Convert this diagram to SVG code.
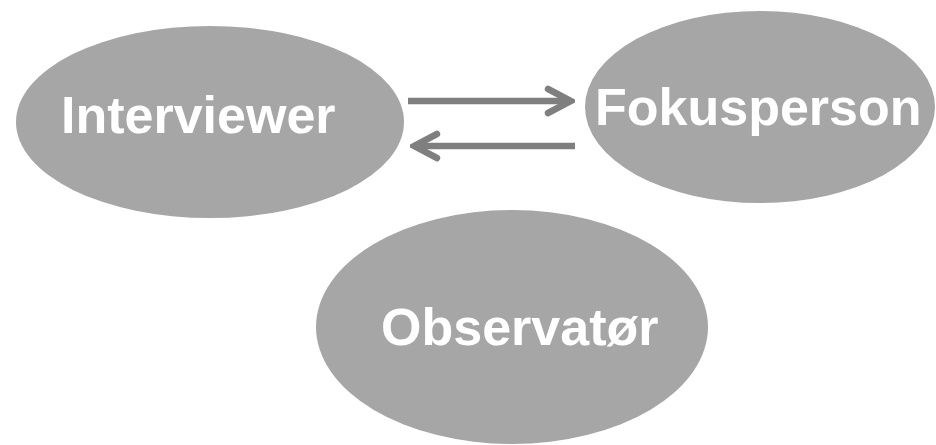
<svg xmlns="http://www.w3.org/2000/svg" width="936" height="445" viewBox="0 0 936 445">
<style>
.node ellipse{fill:#a6a6a6}
.node text{fill:#ffffff;font-family:"Liberation Sans",Arial,sans-serif;font-weight:bold;font-size:52px}
.conn line{stroke:#7f7f7f;stroke-width:6.5}
</style>
<defs>
<marker id="chev" markerUnits="userSpaceOnUse" viewBox="-30 -16 34 32" refX="0" refY="0" markerWidth="34" markerHeight="32" orient="auto">
<polyline points="-23,-12 0,0 -23,12" fill="none" stroke="#7f7f7f" stroke-width="6.5" stroke-linecap="round" stroke-linejoin="miter"/>
</marker>
</defs>
<rect width="936" height="445" fill="#ffffff"/>
<g id="interviewer" class="node">
<ellipse cx="210" cy="122" rx="194" ry="96"/>
<text x="61" y="133">Interviewer</text>
</g>
<g id="fokusperson" class="node">
<ellipse cx="760" cy="107" rx="175" ry="96"/>
<text x="595" y="125">Fokusperson</text>
</g>
<g id="observator" class="node">
<ellipse cx="512" cy="327" rx="196" ry="117"/>
<text x="381" y="345">Observatør</text>
</g>
<g id="connectors" class="conn">
<line x1="408" y1="101" x2="571" y2="101" marker-end="url(#chev)"/>
<line x1="575" y1="146" x2="414" y2="146" marker-end="url(#chev)"/>
</g>
</svg>
